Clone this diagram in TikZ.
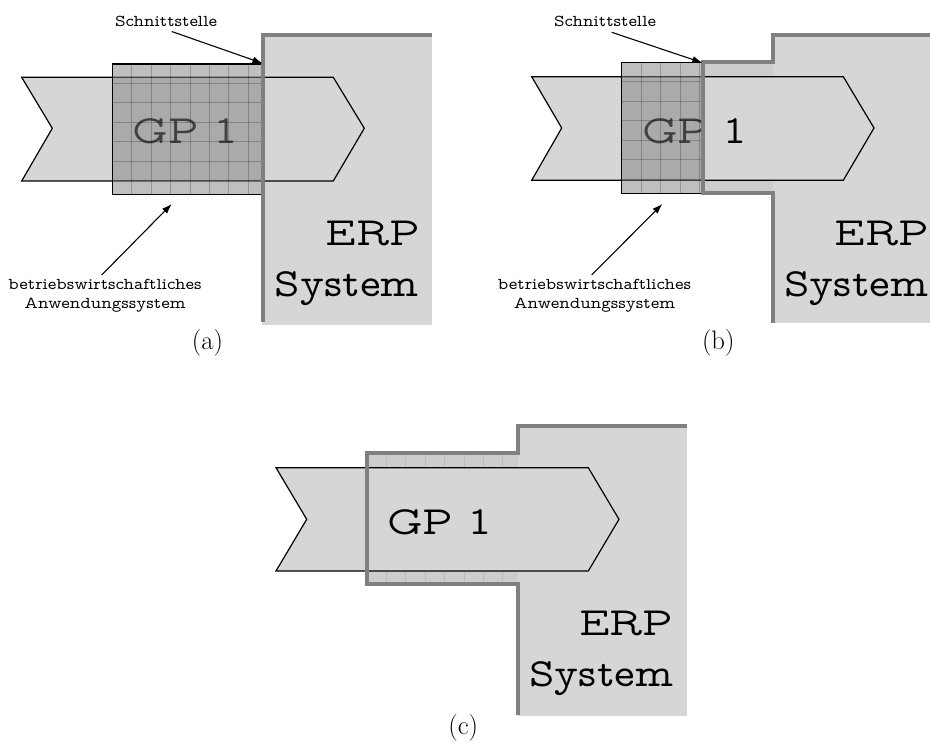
\documentclass[tikz,border=0pt]{standalone}
\usepackage{fontspec}
\newfontfamily\tw[FakeStretch=1.09]{lmmonoprop10-regular.otf}
\usetikzlibrary{arrows.meta}
\definecolor{erpgray}{HTML}{D6D6D6}
\definecolor{linegray}{HTML}{808080}
\definecolor{cellgray}{HTML}{CDCDCD}
\definecolor{overgray}{HTML}{808080}
\tikzset{
  erpfill/.style={fill=erpgray},
  cellfill/.style={fill=cellgray},
  erpline/.style={draw=linegray, line width=4pt},
  gpshape/.style={fill=erpgray, draw=black, line width=1.2pt, line join=miter},
  overlayfill/.style={fill=overgray, fill opacity=0.5},
  darkgrid/.style={draw=black, draw opacity=0.22, line width=0.8pt},
  lightgrid/.style={draw=black, draw opacity=0.08, line width=0.8pt},
  blackborder/.style={draw=black, line width=1.2pt},
  gptext/.style={font=\tw\fontsize{40}{48}\selectfont, inner sep=0pt},
  erptext/.style={font=\tw\fontsize{40}{48}\selectfont, inner sep=0pt, anchor=base east},
  smalltext/.style={font=\tw\fontsize{16.6}{20}\selectfont, inner sep=0pt, anchor=base},
  captext/.style={font=\fontsize{26.7}{32}\selectfont, inner sep=0pt},
  annot/.style={draw=black, line width=1.1pt, -{Latex[length=10pt,width=7pt]}}
}
\begin{document}
\begin{tikzpicture}[x=1pt,y=-1pt]
\useasboundingbox (0,0) rectangle (930,749);
\fill[white] (0,0) rectangle (930,749);

% ---------------- panel (a)
\fill[erpfill] (262,35.3) rectangle (432.3,325);
\draw[gpshape] (21.7,77.3) -- (333.3,77.3) -- (364.3,128.3) -- (333.3,181) -- (21.7,181) -- (52.3,128.3) -- cycle;
\node[gptext] (gpa) at (185,131.5) {GP 1};
\fill[overlayfill] (112.3,64) rectangle (263.3,194.3);
\begin{scope}
  \clip (112.3,64) rectangle (263.3,194.3);
  \foreach \i in {1,...,7} \draw[darkgrid] (112.3+19.4*\i,64) -- ++(0,131);
  \foreach \j in {1,...,6} \draw[darkgrid] (112.3,64+19.4*\j) -- ++(151,0);
\end{scope}
\draw[blackborder] (263.3,64) -- (112.3,64) -- (112.3,194.3) -- (263.3,194.3);
\draw[erpline] (263.3,322) -- (263.3,35.3) -- (432.3,35.3);
\node[erptext] (erpa) at (420,246) {ERP};
\node[erptext] (sysa) at (419,296.7) {System};
\node[smalltext] (sa) at (166,26.3) {Schnittstelle};
\coordinate (ta) at (262.5,63.3);
\draw[annot] (171.7,31.5) -- (ta);
\node[smalltext] (ba1) at (105,289.3) {betriebswirtschaftliches};
\node[smalltext] (ba2) at (105,308.3) {Anwendungssystem};
\coordinate (tb) at (171.7,204);
\draw[annot] (101.7,275) -- (tb);
\node[captext] (capa) at (207.5,343.3) {(a)};

% ---------------- panel (b)
\fill[erpfill] (773.3,35.3) rectangle (930,323);
\fill[cellfill] (703.3,62.5) rectangle (773.3,193);
\begin{scope}
  \clip (703.3,62.5) rectangle (773.3,193);
  \foreach \i in {1,...,4} \draw[lightgrid] (622+19.5*\i,60) -- ++(0,135);
  \foreach \j in {1,...,7} \draw[lightgrid] (700,62.3+19.5*\j) -- ++(80,0);
\end{scope}
\draw[gpshape] (531.7,76.7) -- (843.3,76.7) -- (874,128) -- (843.3,180.3) -- (531.7,180.3) -- (561.7,128) -- cycle;
\node[gptext] (gpb) at (694.5,131.5) {GP 1};
\fill[overlayfill] (621.7,62.3) rectangle (703.3,193.3);
\begin{scope}
  \clip (621.7,62.3) rectangle (703.3,193.3);
  \foreach \i in {1,...,4} \draw[darkgrid] (621.7+19.5*\i,62.3) -- ++(0,131);
  \foreach \j in {1,...,6} \draw[darkgrid] (621.7,62.3+19.5*\j) -- ++(82,0);
\end{scope}
\draw[blackborder] (703.3,62.3) -- (621.7,62.3) -- (621.7,193.3) -- (703.3,193.3);
\draw[erpline] (773.3,323) -- (773.3,193) -- (703.3,193) -- (703.3,62.5) -- (773.3,62.5) -- (773.3,35.3) -- (930,35.3);
\node[erptext] (erpb) at (929,246) {ERP};
\node[erptext] (sysb) at (928.5,296.7) {System};
\node[smalltext] (sb) at (605,26.3) {Schnittstelle};
\coordinate (tc) at (702.3,62.7);
\draw[annot] (611.7,32.3) -- (tc);
\node[smalltext] (bb1) at (594.5,289.3) {betriebswirtschaftliches};
\node[smalltext] (bb2) at (594.5,308.3) {Anwendungssystem};
\coordinate (td) at (662.3,204);
\draw[annot] (591.7,275) -- (td);
\node[captext] (capb) at (718.3,343.3) {(b)};

% ---------------- panel (c)
\fill[erpfill] (518,426) rectangle (686.7,716);
\fill[cellfill] (367,453.3) rectangle (518,584);
\begin{scope}
  \clip (367,453.3) rectangle (518,584);
  \foreach \i in {1,...,7} \draw[lightgrid] (367+19.4*\i,450) -- ++(0,140);
  \foreach \j in {1,...,6} \draw[lightgrid] (365,453.3+19.4*\j) -- ++(160,0);
\end{scope}
\draw[gpshape] (276,467.7) -- (588.3,467.7) -- (619,519.3) -- (588.3,571) -- (276,571) -- (306.7,519.3) -- cycle;
\node[gptext] (gpc) at (439.5,522) {GP 1};
\draw[erpline] (518,715) -- (518,584) -- (367,584) -- (367,453.3) -- (518,453.3) -- (518,426) -- (686.7,426);
\node[erptext] (erpc) at (673.5,635) {ERP};
\node[erptext] (sysc) at (673.5,686.7) {System};
\node[captext] (capc) at (463.3,728.3) {(c)};
\end{tikzpicture}
\end{document}
